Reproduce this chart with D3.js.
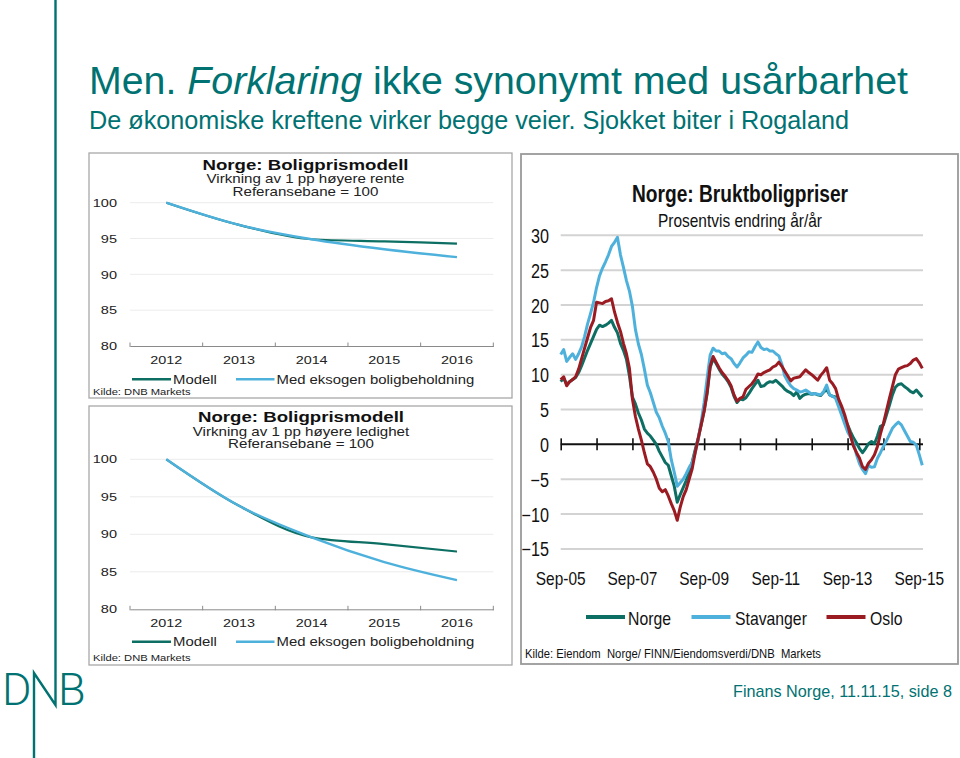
<!DOCTYPE html>
<html><head><meta charset="utf-8">
<script src="https://cdn.jsdelivr.net/npm/d3@7"></script>
<style>body{margin:0;background:#fff}svg{display:block}</style>
</head><body>
<svg id="c" width="960" height="758"></svg>
<script>
// ---------- DATA ----------
const leftCategories = ["2012","2013","2014","2015","2016"];
const leftYTicks = [80,85,90,95,100];
const renteModell   = [100, 96.9, 94.9, 94.6, 94.3];
const renteEksogen  = [100, 96.9, 94.9, 93.5, 92.4];
const ledighetModell  = [100, 93.8, 89.6, 88.7, 87.7];
const ledighetEksogen = [100, 93.8, 89.6, 86.3, 83.9];

// monthly, Sep-05 .. Oct-15
const norge = [
 9.0, 9.5, 8.6, 9.0, 9.3, 9.6, 10.3, 11.3, 12.4, 13.5, 14.5, 15.5,
 16.5, 17.1, 16.9, 17.1, 17.4, 17.8, 16.8, 16.0, 14.5, 13.5, 12.2, 9.8,
 6.8, 5.8, 4.5, 3.5, 2.2, 1.6, 1.2, 0.6, 0.0, -1.0, -1.8, -2.6,
 -3.0, -4.5, -6.0, -8.3, -7.2, -6.2, -5.2, -4.0, -2.5, -0.8, 0.9, 2.8,
 4.8, 7.3, 11.0, 12.3, 11.6, 10.8, 10.1, 9.6, 9.0, 8.2, 6.9, 6.0,
 6.5, 6.4, 6.7, 7.3, 8.0, 8.6, 9.2, 8.3, 8.4, 8.8, 9.0, 8.9,
 9.2, 8.8, 8.4, 7.9, 7.6, 7.4, 7.0, 7.5, 6.6, 7.0, 7.2, 7.3,
 7.2, 7.3, 7.1, 7.0, 7.5, 7.9, 7.1, 6.9, 6.8, 5.8, 4.7, 3.7,
 2.8, 1.8, 0.9, 0.2, -0.6, -1.2, -0.6, 0.1, 0.4, 0.1, 1.2, 2.6,
 2.8, 4.2, 5.6, 7.1, 8.2, 8.6, 8.7, 8.3, 8.0, 7.6, 7.4, 7.8,
 7.3, 6.8
];
const stavanger = [
 12.9, 13.6, 11.9, 12.5, 13.0, 12.2, 13.0, 14.0, 15.5, 17.3, 18.8, 20.4,
 22.5, 24.2, 25.3, 26.2, 27.2, 28.4, 29.0, 29.7, 27.2, 25.4, 23.5, 22.0,
 19.8, 16.5, 14.4, 12.9, 10.8, 8.5, 7.4, 6.0, 4.6, 3.8, 2.6, 1.6,
 0.4, -2.2, -4.0, -6.0, -5.5, -5.0, -4.2, -3.3, -2.6, -1.2, 0.6, 3.2,
 6.0, 9.5, 12.8, 13.8, 13.4, 13.4, 13.0, 13.1, 12.6, 12.3, 11.6, 11.1,
 11.7, 12.4, 12.8, 13.3, 13.2, 14.0, 14.7, 13.9, 13.6, 13.7, 13.4, 13.4,
 13.0, 12.7, 11.5, 9.8, 9.0, 8.4, 8.0, 7.8, 7.5, 7.6, 7.8, 7.5,
 7.2, 7.3, 7.2, 7.1, 7.6, 8.5, 7.1, 6.9, 6.6, 5.4, 4.2, 3.0,
 1.8, 1.0, 0.2, -1.5, -2.8, -3.6, -4.2, -3.0, -3.3, -3.2, -2.0, -1.2,
 -0.3, 0.5, 1.4, 2.3, 2.8, 3.2, 2.8, 2.0, 1.2, 0.4, 0.3, -0.1,
 -1.5, -3.0
];
const oslo = [
 9.3, 9.7, 8.4, 9.0, 9.3, 9.7, 10.8, 12.3, 13.8, 15.3, 16.8, 17.8,
 20.4, 20.3, 20.2, 20.5, 20.6, 20.9, 19.0, 17.5, 16.2, 14.5, 13.0, 10.9,
 6.5, 4.0, 2.2, 0.6, -1.2, -2.8, -3.2, -4.0, -5.0, -6.3, -6.8, -6.5,
 -7.4, -8.5, -9.5, -10.9, -9.0, -7.5, -6.5, -5.0, -3.5, -1.2, 0.8, 2.8,
 4.8, 7.5, 11.2, 12.6, 11.8, 11.0, 10.3, 9.8, 9.2, 8.4, 7.1, 6.2,
 6.6, 6.8, 7.9, 8.3, 8.7, 9.3, 10.1, 10.0, 10.3, 10.5, 10.7, 11.1,
 11.3, 11.8, 11.2, 10.5, 9.8, 9.1, 9.5, 9.6, 9.7, 10.2, 10.7, 10.3,
 10.0, 9.6, 9.2, 9.9, 10.4, 11.0, 9.2, 8.7, 8.0, 6.5, 5.5, 4.3,
 2.8, 1.2, -0.3, -1.2, -2.0, -3.2, -3.6, -2.7, -2.2, -1.5, -0.3, 1.5,
 3.0, 4.8, 6.6, 8.3, 10.0, 10.8, 11.0, 11.2, 11.3, 11.6, 12.1, 12.3,
 11.7, 10.9
];
const rightYTicks = [-15,-10,-5,0,5,10,15,20,25,30];
const rightXTickLabels = ["Sep-05","Sep-07","Sep-09","Sep-11","Sep-13","Sep-15"];
const rightSeriesNames = ["Norge","Stavanger","Oslo"];

// ---------- STYLE ----------
const TEAL = "#007272";
const C_NORGE = "#0d6f63", C_STAV = "#4eb1dc", C_OSLO = "#9b1b22";
const FONT = "'Liberation Sans', Arial, sans-serif";

const svg = d3.select("#c");
function stretch(sel, f){
  sel.each(function(){
    const w = this.getComputedTextLength();
    if (w > 0){ this.setAttribute("textLength", w*f); this.setAttribute("lengthAdjust","spacingAndGlyphs"); }
  });
}
function fitTo(sel, w){ sel.attr("textLength", w).attr("lengthAdjust","spacingAndGlyphs"); }

// ---------- HEADER ----------
const title = svg.append("text").attr("x",89).attr("y",94).attr("font-family",FONT)
  .attr("font-size",39).attr("fill",TEAL);
title.append("tspan").text("Men. ");
title.append("tspan").attr("font-style","italic").text("Forklaring");
title.append("tspan").text(" ikke synonymt med usårbarhet");
fitTo(title, 819);
svg.append("text").attr("x",89).attr("y",129).attr("font-family",FONT).attr("font-size",25)
  .attr("fill",TEAL).text("De økonomiske kreftene virker begge veier. Sjokket biter i Rogaland")
  .call(fitTo, 760);
svg.append("text").attr("x",733).attr("y",697).attr("font-family",FONT)
  .attr("font-size",16.2).attr("fill",TEAL).text("Finans Norge, 11.11.15, side 8");

// vertical rule + DNB logo
svg.append("path").attr("d","M55.5,0 V705 L34,673 V758").attr("fill","none")
  .attr("stroke",TEAL).attr("stroke-width",2.4);
svg.append("text").attr("x",2).attr("y",705).attr("font-family","Roboto, 'Open Sans', sans-serif")
  .attr("font-weight",300).attr("font-size",45).attr("fill",TEAL).text("D");
svg.append("text").attr("x",58).attr("y",705).attr("font-family","Roboto, 'Open Sans', sans-serif")
  .attr("font-weight",300).attr("font-size",45).attr("fill",TEAL).text("B");

// ---------- LEFT CHARTS ----------
function leftChart(cfg){
  const g = svg.append("g");
  g.append("rect").attr("x",89).attr("y",cfg.top).attr("width",423).attr("height",cfg.h)
    .attr("fill","#fff").attr("stroke","#a8a8a8").attr("stroke-width",1.3);
  const x = d3.scaleBand().domain(leftCategories).range([130,493.3]);
  const y = d3.scaleLinear().domain([80,100]).range([cfg.y80, cfg.y100]);
  g.selectAll(".gl").data(leftYTicks.filter(v=>v>80)).join("line")
    .attr("x1",130).attr("x2",493.3).attr("y1",d=>y(d)).attr("y2",d=>y(d))
    .attr("stroke","#ececec").attr("stroke-width",1);
  g.selectAll(".yl").data(leftYTicks).join("text")
    .attr("x",117).attr("y",d=>y(d)).attr("dy","0.36em").attr("text-anchor","end")
    .attr("font-family",FONT).attr("font-size",11.6).attr("fill","#222").text(d=>d)
    .call(stretch,1.25);
  const ax = g.append("g").attr("transform",`translate(0,${y(80)})`)
    .call(d3.axisBottom(x).tickSize(0).tickPadding(0));
  ax.select(".domain").attr("stroke","#8a8a8a").attr("stroke-width",1);
  ax.selectAll("text").remove();
  const bounds = leftCategories.map(c=>x(c)).concat([x.range()[1]]);
  g.selectAll(".tk").data(bounds).join("line").attr("x1",d=>d).attr("x2",d=>d)
    .attr("y1",y(80)-3.5).attr("y2",y(80)+1).attr("stroke","#8a8a8a").attr("stroke-width",1);
  g.selectAll(".xl").data(leftCategories).join("text")
    .attr("x",d=>x(d)+x.bandwidth()/2).attr("y",cfg.xlab).attr("text-anchor","middle")
    .attr("font-family",FONT).attr("font-size",11.6).attr("fill","#222").text(d=>d)
    .call(stretch,1.24);
  const line = d3.line().x((d,i)=>x(leftCategories[i])+x.bandwidth()/2).y(d=>y(d)).curve(d3.curveMonotoneX);
  g.append("path").attr("d",line(cfg.modell)).attr("fill","none").attr("stroke",C_NORGE).attr("stroke-width",2.2);
  g.append("path").attr("d",line(cfg.eksogen)).attr("fill","none").attr("stroke",C_STAV).attr("stroke-width",2.4);
  g.append("text").attr("x",cfg.cx).attr("y",cfg.t1).attr("text-anchor","middle").attr("font-family",FONT)
    .attr("font-weight","bold").attr("font-size",15).attr("fill","#111").text("Norge: Boligprismodell").call(fitTo,206);
  g.append("text").attr("x",cfg.cx).attr("y",cfg.t2).attr("text-anchor","middle").attr("font-family",FONT)
    .attr("font-size",12.2).attr("fill","#222").text(cfg.sub).call(stretch,1.24);
  g.append("text").attr("x",cfg.cx).attr("y",cfg.t3).attr("text-anchor","middle").attr("font-family",FONT)
    .attr("font-size",12.2).attr("fill","#222").text("Referansebane = 100").call(stretch,1.24);
  const ly = cfg.leg;
  g.append("line").attr("x1",132).attr("x2",171).attr("y1",ly).attr("y2",ly).attr("stroke",C_NORGE).attr("stroke-width",2.4);
  g.append("text").attr("x",173).attr("y",ly+4.3).attr("font-family",FONT).attr("font-size",12).attr("fill","#222")
    .text("Modell").call(stretch,1.24);
  g.append("line").attr("x1",236).attr("x2",274.5).attr("y1",ly).attr("y2",ly).attr("stroke",C_STAV).attr("stroke-width",2.4);
  g.append("text").attr("x",276.5).attr("y",ly+4.3).attr("font-family",FONT).attr("font-size",12).attr("fill","#222")
    .text("Med eksogen boligbeholdning").call(stretch,1.24);
  g.append("text").attr("x",93).attr("y",cfg.src).attr("font-family",FONT).attr("font-size",9).attr("fill","#222")
    .text("Kilde: DNB Markets").call(fitTo,97.5);
}
leftChart({top:153, h:245, y100:202.7, y80:346, xlab:363.5, cx:305.5, t1:170, t2:183.3, t3:195.7,
  sub:"Virkning av 1 pp høyere rente", leg:379.3, src:395, modell:renteModell, eksogen:renteEksogen});
leftChart({top:406, h:259, y100:459.3, y80:609.3, xlab:627, cx:301, t1:421.7, t2:436, t3:448.3,
  sub:"Virkning av 1 pp høyere ledighet", leg:641.7, src:661, modell:ledighetModell, eksogen:ledighetEksogen});

// ---------- RIGHT CHART ----------
const R = svg.append("g");
R.append("rect").attr("x",521).attr("y",154).attr("width",437).attr("height",510)
  .attr("fill","#fff").attr("stroke","#9a9a9a").attr("stroke-width",1.8);
const xr = d3.scaleLinear().domain([0,120]).range([560.7,919.3]);
const yr = d3.scaleLinear().domain([-15,30]).range([548.9,235.3]);
const plotRight = 923;
R.selectAll(".g").data(rightYTicks.filter(v=>v!==0)).join("line")
  .attr("x1",xr(0)).attr("x2",plotRight).attr("y1",d=>yr(d)).attr("y2",d=>yr(d))
  .attr("stroke","#d3d3d3").attr("stroke-width",2);
const yAx = R.append("g").attr("transform",`translate(549,0)`)
  .call(d3.axisLeft(yr).tickValues(rightYTicks).tickSize(0).tickPadding(0));
yAx.select(".domain").remove();
yAx.selectAll("text").attr("font-family",FONT).attr("font-size",19.5).attr("fill","#111")
  .attr("dy","0.36em").call(stretch,0.83);
const monthsTicks = d3.range(0,121,12);
const xAx = R.append("g").attr("transform",`translate(0,${yr(0)})`)
  .call(d3.axisBottom(xr).tickValues(monthsTicks).tickSize(6).tickFormat(""));
xAx.select(".domain").attr("d",`M${xr(0)},0H${plotRight}`).attr("stroke","#111").attr("stroke-width",2);
xAx.selectAll(".tick line").attr("y1",-6).attr("y2",6).attr("stroke","#111").attr("stroke-width",1.6);
R.selectAll(".xl").data(rightXTickLabels).join("text")
  .attr("x",(d,i)=>xr(i*24)).attr("y",585).attr("text-anchor","middle")
  .attr("font-family",FONT).attr("font-size",18.6).attr("fill","#111").text(d=>d).call(stretch,0.83);
const lr = d3.line().x((d,i)=>xr(i)).y(d=>yr(d));
[[norge,C_NORGE],[stavanger,C_STAV],[oslo,C_OSLO]].forEach(([s,c])=>{
  R.append("path").attr("d",lr(s)).attr("fill","none").attr("stroke",c).attr("stroke-width",3)
    .attr("stroke-linejoin","round");
});
R.append("text").attr("x",740).attr("y",202).attr("text-anchor","middle").attr("font-family",FONT)
  .attr("font-weight","bold").attr("font-size",23).attr("fill","#111").text("Norge: Bruktboligpriser").call(fitTo,216);
R.append("text").attr("x",740).attr("y",227).attr("text-anchor","middle").attr("font-family",FONT)
  .attr("font-size",19).attr("fill","#111").text("Prosentvis endring år/år").call(fitTo,164);
const legX = [[586,628],[691.5,735],[826.5,870]];
const legC = [C_NORGE,C_STAV,C_OSLO];
rightSeriesNames.forEach((n,i)=>{
  R.append("line").attr("x1",legX[i][0]).attr("x2",legX[i][0]+39).attr("y1",617).attr("y2",617)
    .attr("stroke",legC[i]).attr("stroke-width",4);
  R.append("text").attr("x",legX[i][1]).attr("y",625).attr("font-family",FONT).attr("font-size",19)
    .attr("fill","#111").text(n).call(stretch,0.83);
});
R.append("text").attr("x",525).attr("y",658).attr("font-family",FONT).attr("font-size",13.5).attr("fill","#111")
  .attr("xml:space","preserve").style("white-space","pre")
  .text("Kilde: Eiendom  Norge/ FINN/Eiendomsverdi/DNB  Markets").call(fitTo,296);
</script>
</body></html>
